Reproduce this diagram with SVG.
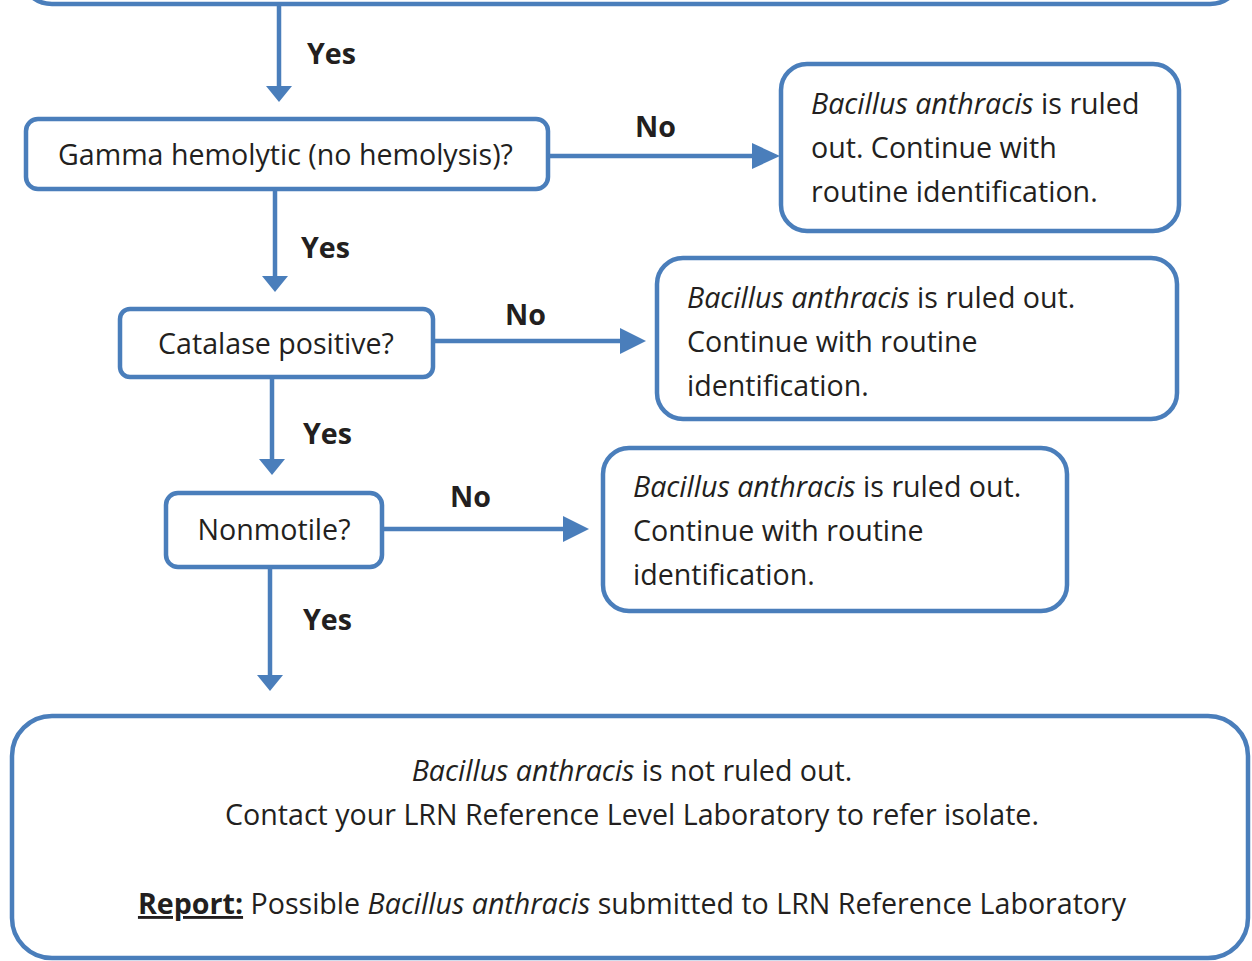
<svg xmlns="http://www.w3.org/2000/svg" width="1252" height="961" viewBox="0 0 1252 961">
<defs>
<style>
.box{fill:#fff;stroke:#4a7ebb;stroke-width:4.5}
.ln{stroke:#4a7ebb;stroke-width:4.5;fill:none}
.hd{fill:#4a7ebb}
text{font-family:"Open Sans","Liberation Sans",sans-serif;fill:#231f20;font-size:28.6px}
.b{font-weight:bold}
.i{font-style:italic}
</style>
</defs>
<rect width="1252" height="961" fill="#fff"/>
<g id="top"><rect class="box" x="20" y="-150" width="1222" height="154" rx="32"/></g>
<g id="gamma"><rect class="box" x="26" y="119" width="522" height="70" rx="12"/>
<text x="58" y="165">Gamma hemolytic (no hemolysis)?</text></g>
<g id="out1"><rect class="box" x="781" y="64" width="398" height="167" rx="26"/>
<text x="811" y="114"><tspan class="i">Bacillus anthracis</tspan> is ruled</text>
<text x="811" y="158">out. Continue with</text>
<text x="811" y="202">routine identification.</text></g>
<g id="catalase"><rect class="box" x="120" y="309" width="313" height="68" rx="10"/>
<text x="276" y="354" text-anchor="middle">Catalase positive?</text></g>
<g id="out2"><rect class="box" x="657" y="258" width="520" height="161" rx="26"/>
<text x="687" y="308"><tspan class="i">Bacillus anthracis</tspan> is ruled out.</text>
<text x="687" y="352">Continue with routine</text>
<text x="687" y="396">identification.</text></g>
<g id="nonmotile"><rect class="box" x="166" y="493" width="216" height="74" rx="12"/>
<text x="274" y="540" text-anchor="middle">Nonmotile?</text></g>
<g id="out3"><rect class="box" x="603" y="448" width="464" height="163" rx="26"/>
<text x="633" y="497"><tspan class="i">Bacillus anthracis</tspan> is ruled out.</text>
<text x="633" y="541">Continue with routine</text>
<text x="633" y="585">identification.</text></g>
<g id="final"><rect class="box" x="12" y="716" width="1236" height="242" rx="40"/>
<text x="632" y="781" text-anchor="middle"><tspan class="i">Bacillus anthracis</tspan> is not ruled out.</text>
<text x="632" y="825" text-anchor="middle">Contact your LRN Reference Level Laboratory to refer isolate.</text>
<text x="632" y="914" text-anchor="middle"><tspan class="b" text-decoration="underline">Report:</tspan> Possible <tspan class="i">Bacillus anthracis</tspan> submitted to LRN Reference Laboratory</text></g>
<g id="connectors">
<line class="ln" x1="279" y1="4" x2="279" y2="88"/><polygon class="hd" points="266,86 292,86 279,102"/>
<text class="b" x="307" y="64">Yes</text>
<line class="ln" x1="548" y1="156" x2="755" y2="156"/><polygon class="hd" points="752,143 752,169 780,156"/>
<text class="b" x="635" y="137">No</text>
<line class="ln" x1="275" y1="189" x2="275" y2="278"/><polygon class="hd" points="262,276 288,276 275,292"/>
<text class="b" x="301" y="258">Yes</text>
<line class="ln" x1="433" y1="341" x2="622" y2="341"/><polygon class="hd" points="620,328 620,354 646,341"/>
<text class="b" x="505" y="325">No</text>
<line class="ln" x1="272" y1="377" x2="272" y2="461"/><polygon class="hd" points="259,459 285,459 272,475"/>
<text class="b" x="303" y="444">Yes</text>
<line class="ln" x1="382" y1="529" x2="566" y2="529"/><polygon class="hd" points="563,516 563,542 589,529"/>
<text class="b" x="450" y="507">No</text>
<line class="ln" x1="270" y1="567" x2="270" y2="677"/><polygon class="hd" points="257,675 283,675 270,691"/>
<text class="b" x="303" y="630">Yes</text>
</g>
</svg>
